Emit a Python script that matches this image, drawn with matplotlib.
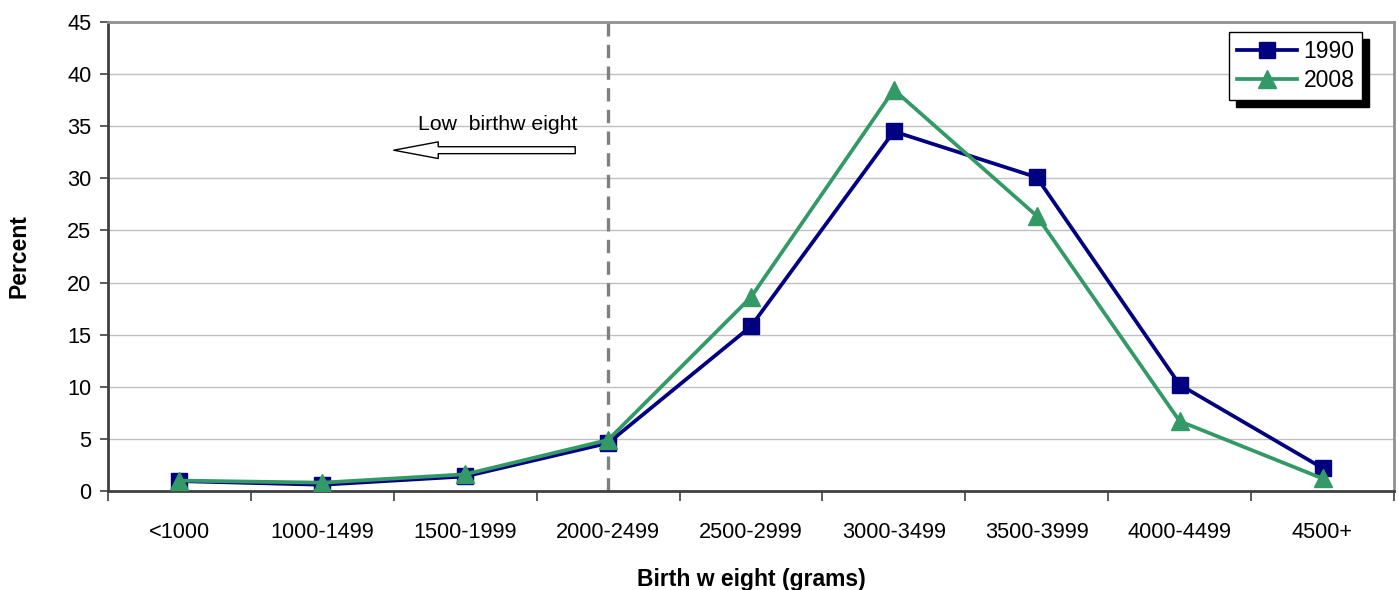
import numpy as np
import matplotlib.pyplot as plt

plt.rcParams['font.family'] = ['Liberation Sans', 'DejaVu Sans']

categories = ['<1000', '1000-1499', '1500-1999', '2000-2499', '2500-2999',
              '3000-3499', '3500-3999', '4000-4499', '4500+']
pct_1990 = [0.95, 0.6, 1.4, 4.6, 15.8, 34.5, 30.1, 10.2, 2.2]
pct_2008 = [1.0, 0.8, 1.6, 4.9, 18.6, 38.5, 26.4, 6.7, 1.2]

navy = '#000080'
green = '#339966'

fig = plt.figure(figsize=(13.99, 5.90), dpi=100)
ax = fig.add_axes([0.0772, 0.1678, 0.9192, 0.7949])

x = np.arange(len(categories))

ax.plot(x, pct_1990, color=navy, lw=2.7, marker='s', ms=11.5, label='1990', zorder=3)
ax.plot(x, pct_2008, color=green, lw=2.7, marker='^', ms=13, label='2008', zorder=4)

# low birthweight cut-off
ax.axvline(3, color='#808080', lw=2.4, ls=(0, (4, 2.5)), zorder=2)

ax.annotate('', xy=(1.5, 32.7), xytext=(2.77, 32.7),
            arrowprops=dict(arrowstyle='simple,head_length=3.2,head_width=1.2,tail_width=0.5',
                            fc='white', ec='black', lw=1, mutation_scale=10,
                            shrinkA=0, shrinkB=0))
ax.text(2.23, 35.2, 'Low  birthw eight', fontsize=15.3, ha='center', va='center')

ax.set_xlim(-0.5, 8.5)
ax.set_ylim(0, 45)
ax.set_yticks(np.arange(0, 46, 5))
ax.set_xticks(x)
ax.set_xticklabels(categories)
ax.set_xticks(np.arange(-0.5, 9, 1), minor=True)
ax.tick_params(axis='x', which='major', length=0, pad=22, labelsize=15.7)
ax.tick_params(axis='x', which='minor', length=7, width=1.2, color='#404040')
ax.tick_params(axis='y', length=6, width=1.2, color='#404040', labelsize=15.7, pad=6)

ax.grid(axis='y', color='#c0c0c0', lw=1)
ax.set_axisbelow(True)
for s in ['left', 'bottom']:
    ax.spines[s].set_color('#404040')
    ax.spines[s].set_linewidth(2)
for s in ['top', 'right']:
    ax.spines[s].set_color('#909090')
    ax.spines[s].set_linewidth(2)

ax.set_xlabel('Birth w eight (grams)', fontsize=16.5, fontweight='bold', labelpad=18)
ax.set_ylabel('Percent', fontsize=16.5, fontweight='bold', labelpad=26)

leg = ax.legend(loc='upper right', bbox_to_anchor=(0.9755, 0.978), fontsize=16.5,
                frameon=True, fancybox=False, edgecolor='black', framealpha=1,
                borderpad=0.35, handlelength=2.6, handletextpad=0.3, labelspacing=0.25,
                borderaxespad=0, shadow={'color': 'black', 'alpha': 1, 'ox': 5, 'oy': -5})
leg.get_frame().set_linewidth(1)

fig.savefig('out.png', dpi=100)
